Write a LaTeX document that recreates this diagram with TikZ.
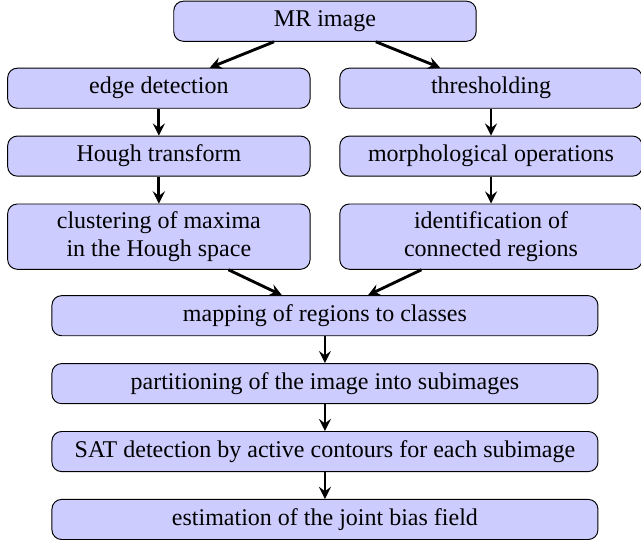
\documentclass[tikz,border=0pt]{standalone}
\usepackage{fontspec}
\setmainfont{Liberation Serif}
\usepackage{tikz}
\usetikzlibrary{positioning}
\usepackage{xcolor}

\begin{document}
\begin{tikzpicture}[
    box/.style={draw, fill=blue!20, rounded corners=4pt, align=center,
      minimum width=126pt, minimum height=16.7pt, inner sep=3pt},
    widebox/.style={box, minimum width=227.5pt},
    arr/.style={->, >=stealth, line width=1.2pt},
    node distance=11.2pt,
  ]
  \useasboundingbox (-135.4pt,0.3pt) rectangle (131.7pt,-225.2pt);

  \node[box, anchor=north] (mr) at (0,0) {MR image};

  \node[box, below left=10.8pt and 6pt of mr.south] (edge) {edge detection};
  \node[box, below right=10.8pt and 6pt of mr.south] (thresh) {thresholding};

  \node[box, below=of edge] (hough) {Hough transform};
  \node[box, below=of thresh] (morph) {morphological operations};

  \node[box, below=of hough] (clust) {clustering of maxima\\in the Hough space};
  \node[box, below=of morph] (ident) {identification of\\connected regions};

  \node[widebox, below=10.6pt] (mapping) at (mr |- clust.south) {mapping of regions to classes};
  \node[widebox, below=of mapping] (part) {partitioning of the image into subimages};
  \node[widebox, below=of part] (sat) {SAT detection by active contours for each subimage};
  \node[widebox, below=of sat] (est) {estimation of the joint bias field};

  \draw[arr] (mr) -- (edge);
  \draw[arr] (mr) -- (thresh);
  \draw[arr] (edge) -- (hough);
  \draw[arr] (thresh) -- (morph);
  \draw[arr] (hough) -- (clust);
  \draw[arr] (morph) -- (ident);
  \draw[arr] (clust) -- (mapping);
  \draw[arr] (ident) -- (mapping);
  \draw[arr] (mapping) -- (part);
  \draw[arr] (part) -- (sat);
  \draw[arr] (sat) -- (est);

\end{tikzpicture}
\end{document}
